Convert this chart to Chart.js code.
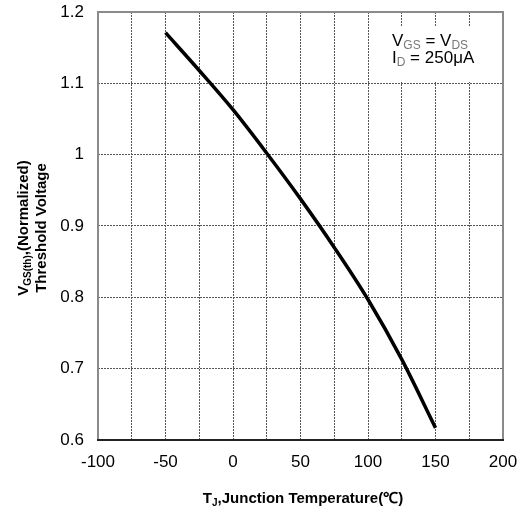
<!DOCTYPE html>
<html>
<head>
<meta charset="utf-8">
<script src="https://cdn.jsdelivr.net/npm/chart.js@4"></script>
<style>
  html, body { margin: 0; padding: 0; background: #fff; }
  #wrap { width: 518px; height: 512px; }
</style>
</head>
<body>
<div id="wrap"><canvas id="vthChart"></canvas></div>
<script>
// Tj (deg C) vs normalized threshold voltage
var tempC = [-50, -25, 0, 25, 50, 75, 100, 125, 150];
var vthNorm = [1.171, 1.118, 1.063, 1.002, 0.938, 0.870, 0.797, 0.713, 0.617];
var xTicks = [-100, -50, 0, 50, 100, 150, 200];
var yTicks = [0.6, 0.7, 0.8, 0.9, 1, 1.1, 1.2];

// draw "base + subscript + rest" pieces at the current baseline
function drawRuns(ctx, runs, x, y) {
    runs.forEach(function(r) {
        ctx.font = r.font;
        ctx.fillStyle = r.color || '#000';
        ctx.fillText(r.text, x, y + (r.dy || 0));
        x += ctx.measureText(r.text).width;
    });
    return x;
}
function runsWidth(ctx, runs) {
    var w = 0;
    runs.forEach(function(r) { ctx.font = r.font; w += ctx.measureText(r.text).width; });
    return w;
}

var annotations = {
    id: 'annotations',
    afterDraw: function(chart) {
        var ctx = chart.ctx, a = chart.chartArea;
        ctx.save();

        // white box behind the test conditions
        ctx.fillStyle = '#fff';
        ctx.fillRect(384, 26, a.right - 384, 56);

        // frame
        ctx.lineWidth = 2;
        ctx.strokeStyle = '#8a8a8a';
        ctx.beginPath();
        ctx.moveTo(a.left, a.bottom);
        ctx.lineTo(a.left, a.top);
        ctx.lineTo(a.right, a.top);
        ctx.lineTo(a.right, a.bottom);
        ctx.stroke();
        ctx.strokeStyle = '#222';
        ctx.beginPath();
        ctx.moveTo(a.left - 1, a.bottom);
        ctx.lineTo(a.right + 1, a.bottom);
        ctx.stroke();

        ctx.textBaseline = 'alphabetic';
        ctx.textAlign = 'left';

        // condition box text
        var f = '17px Arial, "Liberation Sans", sans-serif';
        var fs = '12px Arial, "Liberation Sans", sans-serif';
        drawRuns(ctx, [
            {text: 'V', font: f},
            {text: 'GS', font: fs, color: '#777', dy: 3},
            {text: ' = V', font: f},
            {text: 'DS', font: fs, color: '#777', dy: 3}
        ], 392, 46);
        drawRuns(ctx, [
            {text: 'I', font: f},
            {text: 'D', font: fs, color: '#777', dy: 3},
            {text: ' = 250\u03bcA', font: f}
        ], 392, 63);

        // x axis title
        var fb = 'bold 15px Arial, "Liberation Sans", sans-serif';
        var fbs = 'bold 10px Arial, "Liberation Sans", sans-serif';
        var xr = [
            {text: 'T', font: fb},
            {text: 'J', font: fbs, dy: 3},
            {text: ',Junction Temperature(\u2103)', font: fb}
        ];
        drawRuns(ctx, xr, 303 - runsWidth(ctx, xr) / 2, 503);

        // y axis title, two rotated lines
        var cy = (a.top + a.bottom) / 2 + 2;
        ctx.translate(0, cy);
        ctx.rotate(-Math.PI / 2);
        var y1 = [
            {text: 'V', font: fb},
            {text: 'GS(th)', font: fbs, dy: 3},
            {text: ',(Normalized)', font: fb}
        ];
        drawRuns(ctx, y1, -runsWidth(ctx, y1) / 2, 28);
        var y2 = [{text: 'Threshold Voltage', font: fb}];
        drawRuns(ctx, y2, -runsWidth(ctx, y2) / 2, 46);

        ctx.restore();
    }
};

var gridLine = {
    color: '#555',
    lineWidth: 1,
    drawTicks: false
};

new Chart(document.getElementById('vthChart'), {
    type: 'scatter',
    data: {
        datasets: [{
            data: tempC.map(function(t, i) { return {x: t, y: vthNorm[i]}; }),
            showLine: true,
            borderColor: '#000',
            borderWidth: 3.5,
            pointRadius: 0,
            tension: 0.4,
            cubicInterpolationMode: 'monotone'
        }]
    },
    options: {
        responsive: true,
        maintainAspectRatio: false,
        animation: false,
        layout: { padding: { top: 12, right: 15, left: 0, bottom: 0 } },
        plugins: { legend: { display: false }, tooltip: { enabled: false } },
        scales: {
            x: {
                type: 'linear',
                min: -100, max: 200,
                afterFit: function(s) {
                    s.height = 72;
                    s.paddingLeft = 0;
                    s.paddingRight = 0;
                },
                afterBuildTicks: function(s) {
                    var t = [];
                    for (var v = -100; v <= 200; v += 25) t.push({value: v});
                    s.ticks = t;
                },
                ticks: {
                    padding: 12,
                    color: '#000',
                    font: { family: 'Arial, "Liberation Sans", sans-serif', size: 17 },
                    maxRotation: 0,
                    autoSkip: false,
                    callback: function(v) { return xTicks.indexOf(v) >= 0 ? String(v) : ''; }
                },
                grid: gridLine,
                border: { display: false, dash: [2, 1] }
            },
            y: {
                min: 0.6, max: 1.2,
                afterFit: function(s) {
                    s.width = 98;
                    s.paddingTop = 0;
                    s.paddingBottom = 0;
                },
                afterBuildTicks: function(s) {
                    s.ticks = yTicks.map(function(v) { return {value: v}; });
                },
                ticks: {
                    padding: 14,
                    color: '#000',
                    font: { family: 'Arial, "Liberation Sans", sans-serif', size: 17 },
                    callback: function(v) { return String(Math.round(v * 10) / 10); }
                },
                grid: gridLine,
                border: { display: false, dash: [2, 1] }
            }
        }
    },
    plugins: [annotations]
});
</script>
</body>
</html>
